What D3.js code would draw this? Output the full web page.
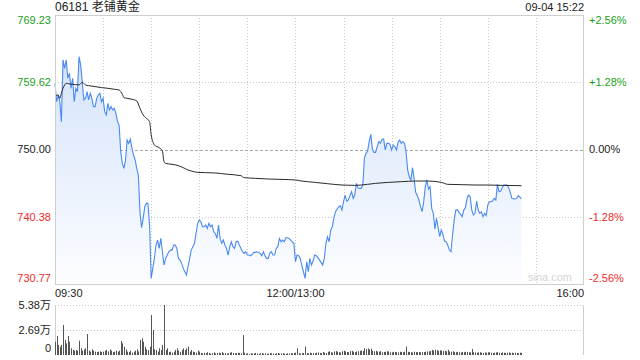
<!DOCTYPE html>
<html><head><meta charset="utf-8">
<script src="https://cdn.jsdelivr.net/npm/d3@7"></script>
<style>
html,body{margin:0;padding:0;background:#fff;}
text{font-family:"Liberation Sans",Arial,"Noto Sans CJK SC",sans-serif;}
</style></head>
<body><svg id="c" width="640" height="360"></svg>
<script>
// ---- data (price at each trading minute from 09:30, 12:00/13:00 joined) ----
const title = "06181 老铺黄金";
const stamp = "09-04 15:22";
const prevClose = 750.00;
const priceTicks = [769.23, 759.62, 750.00, 740.38, 730.77];
const pctTicks = ["+2.56%", "+1.28%", "0.00%", "-1.28%", "-2.56%"];
const timeLabels = ["09:30", "12:00/13:00", "16:00"];
const timeLabelMinutes = [0, 150, 330];
const volTicks = [5.38, 2.69, 0];
const volTickLabels = ["5.38万", "2.69万", "0"];
const price = [
759.47,756.84,757.80,756.84,753.98,762.80,761.61,762.80,760.18,760.90,
758.75,760.18,756.84,758.75,758.27,763.28,762.09,759.70,757.08,757.32,
758.27,757.08,758.04,757.32,756.13,756.13,757.32,757.80,758.04,756.84,
757.32,755.41,754.94,756.60,755.65,756.13,755.65,755.89,755.17,753.98,
753.50,749.69,748.02,747.31,748.50,751.36,750.88,751.50,750.17,749.21,
748.50,747.31,746.35,741.11,738.82,740.15,741.82,742.30,742.30,739.20,
731.57,733.00,734.43,736.34,737.05,735.86,737.29,735.38,733.48,734.43,
734.91,735.38,735.62,735.62,736.34,736.34,735.86,734.43,734.19,733.72,
733.00,732.52,732.04,733.24,734.43,735.62,736.10,736.58,738.00,739.44,
739.91,739.67,738.96,738.96,739.20,738.72,739.44,738.96,739.20,738.24,
738.00,737.29,739.20,737.29,736.58,737.05,736.34,735.86,734.91,736.10,
736.81,736.10,735.86,736.81,736.90,736.34,735.86,735.38,735.15,735.38,
734.91,734.91,734.81,735.00,735.29,735.29,735.38,735.29,735.15,734.81,
735.38,734.81,734.43,734.43,735.15,735.38,734.91,734.91,735.86,736.10,
737.29,736.81,737.05,736.81,737.39,737.39,737.29,737.05,736.81,736.58,
733.96,734.91,734.81,734.43,733.38,732.52,731.57,733.96,732.52,734.43,
733.48,734.05,734.91,734.81,734.53,734.19,733.86,733.48,734.43,736.58,
737.53,736.81,738.48,738.96,740.25,741.11,741.49,741.82,741.96,741.34,
742.54,743.49,742.63,742.78,743.40,743.97,743.01,743.49,745.16,744.54,
744.44,744.44,744.92,748.74,749.45,749.79,751.12,752.17,750.07,749.59,
749.59,750.41,751.12,750.88,751.45,751.50,749.93,750.88,750.88,750.74,
749.93,750.64,750.41,749.93,751.03,751.36,750.88,751.12,750.88,749.69,
747.07,746.11,745.64,747.40,745.88,743.88,743.40,742.78,741.82,741.11,
742.54,744.68,745.64,744.35,744.68,741.58,740.87,738.63,740.15,738.82,
737.53,738.48,737.86,736.90,736.81,736.34,735.62,735.38,737.77,739.91,
741.34,741.39,741.01,740.73,740.39,741.34,741.68,742.92,743.49,743.25,
741.34,740.63,740.87,742.63,741.34,740.87,741.11,740.39,740.87,740.54,
742.06,742.54,742.54,742.63,743.01,742.78,745.02,743.97,744.06,744.54,
744.92,744.92,744.92,744.54,743.88,743.01,742.92,742.92,743.01,743.40,
743.20,742.92
];
const avgMinute = [0,2,3,4,5,6,7,9,11,15,17,19,21,25,29,33,37,40,42,43,45,48,51,53,55,57,59,60,61,62,65,67,68,69,73,77,80,83,85,89,94,100,
108,116,118,125,133,141,150,154,162,170,179,187,191,195,200,208,216,225,233,241,245,254,262,270,279,291];
const avgPrice = [757.56,757.80,757.32,758.04,758.75,759.23,759.47,759.37,759.32,759.23,759.61,759.23,759.13,758.99,758.85,758.75,758.61,758.51,757.89,757.42,
757.32,757.18,756.94,755.89,754.94,754.46,753.98,752.07,751.12,750.64,750.26,749.79,748.26,748.02,747.88,747.69,747.40,747.07,746.92,746.73,746.69,746.64,
746.45,746.26,745.97,745.88,745.78,745.73,745.64,745.49,745.30,745.11,744.92,744.87,744.92,745.02,745.16,745.30,745.40,745.49,745.49,745.30,745.02,744.97,744.92,744.92,744.87,744.83];
const volume = [
1.43,2.04,1.08,0.90,1.08,3.23,1.61,1.25,2.04,1.43,
0.72,0.54,0.47,0.54,0.47,1.54,0.72,0.47,0.61,0.72,
2.26,0.47,0.36,0.61,0.47,0.36,0.32,0.36,0.39,0.32,
0.36,0.47,0.54,0.39,0.61,0.47,0.32,0.36,0.47,0.36,
0.47,1.51,1.25,0.90,0.61,0.36,0.32,0.47,0.25,0.36,
0.47,0.61,0.39,1.61,1.79,1.43,0.90,0.61,0.54,0.90,
4.30,2.69,0.61,0.54,0.36,0.72,0.54,1.08,5.38,0.54,
0.72,0.32,0.36,0.25,0.36,0.54,0.72,0.47,0.32,0.54,
0.72,0.54,0.72,0.90,0.36,0.54,0.36,0.32,0.25,0.47,
0.36,
0.22,0.18,0.25,0.20,0.30,0.22,0.15,0.20,0.28,0.18,0.22,0.25,0.20,0.32,0.18,0.22,0.15,0.20,0.25,0.30,0.22,0.18,0.20,0.25,0.22,0.18,
2.15,0.25,
0.15,0.18,0.12,0.20,0.15,0.18,0.22,0.15,0.12,0.18,0.20,0.15,0.18,0.12,0.15,0.20,0.18,0.15,0.12,0.18,0.22,0.15,0.18,0.20,0.15,0.12,0.18,0.15,0.20,0.18,0.22,
0.25,0.72,0.20,0.15,0.18,0.22,0.90,
0.22,0.18,0.25,0.20,0.22,0.18,0.25,0.28,0.22,0.20,0.32,0.25,0.22,0.35,0.40,0.30,0.25,0.38,0.42,0.35,0.30,0.28,0.40,0.45,0.38,0.32,0.30,0.42,0.45,0.35,0.30,0.38,0.40,0.45,
0.50,0.45,0.72,0.65,0.70,0.60,0.68,0.45,
0.40,0.45,0.38,0.35,0.42,0.30,0.32,0.35,0.40,0.38,0.30,0.28,0.35,0.32,0.30,0.28,0.35,0.32,0.30,0.35,
0.90,
0.35,0.32,0.30,0.28,0.35,0.32,0.30,0.33,0.28,0.30,0.32,0.35,0.38,0.40,0.42,
0.55,0.50,0.58,0.52,0.45,0.50,0.48,0.42,0.45,0.40,0.55,0.38,0.35,0.40,
0.32,0.30,0.35,0.30,0.28,0.32,0.30,0.35,0.32,0.30,0.28,
0.65,
0.30,0.28,0.25,0.28,0.30,0.25,0.22,0.28,0.25,0.30,0.28,0.25,0.22,0.25,0.28,0.30,0.25,0.22,0.28,0.25,0.22,0.25,0.28,0.22,0.25,0.20,0.25,0.22,0.20,0.25,0.22
];

// ---- drawing ----
const svg = d3.select("#c");
const L = 55, R = 584, T = 15, B = 284, VT = 305, VB = 355;
const x = d3.scaleLinear().domain([0, 330]).range([L, R]);
const y = d3.scaleLinear().domain([730.77, 769.23]).range([B, T]);
const yv = d3.scaleLinear().domain([0, 5.38]).range([VB, VT]);
const GREEN = "#1a9f1a", RED = "#f02b2b", DARK = "#222";
const colorFor = v => Math.abs(v - prevClose) < 1e-6 ? DARK : (v > prevClose ? GREEN : RED);

const defs = svg.append("defs");
const grad = defs.append("linearGradient").attr("id", "g").attr("gradientUnits", "userSpaceOnUse")
  .attr("x1", 0).attr("x2", 0).attr("y1", T + 30).attr("y2", B);
grad.append("stop").attr("offset", 0).attr("stop-color", "#d3e2fa");
grad.append("stop").attr("offset", 1).attr("stop-color", "#fcfdff");

// grid main
const gridMin = d3.range(30, 330, 30);
svg.append("g").selectAll("line").data(gridMin).join("line")
  .attr("x1", d => Math.round(x(d)) + 0.5).attr("x2", d => Math.round(x(d)) + 0.5)
  .attr("y1", T).attr("y2", B).attr("stroke", "#c8c8c8").attr("stroke-dasharray", "1,2");
svg.append("g").selectAll("line").data(priceTicks.slice(1, 4)).join("line")
  .attr("x1", L).attr("x2", R)
  .attr("y1", d => Math.round(y(d)) + 0.5).attr("y2", d => Math.round(y(d)) + 0.5)
  .attr("stroke", d => d === prevClose ? "#a8a8a8" : "#c8c8c8")
  .attr("stroke-dasharray", d => d === prevClose ? "3,2" : "1,2");

// area + line
const pts = price.map((p, i) => [i, p]);
svg.append("path").datum(pts)
  .attr("d", d3.area().x(d => x(d[0])).y0(B).y1(d => y(d[1])))
  .attr("fill", "url(#g)");
svg.append("path").datum(pts)
  .attr("d", d3.line().x(d => x(d[0])).y(d => y(d[1])))
  .attr("fill", "none").attr("stroke", "#4a8af0").attr("stroke-width", 1.1);
svg.append("path").datum(avgMinute.map((m, i) => [m, avgPrice[i]]))
  .attr("d", d3.line().x(d => x(d[0])).y(d => y(d[1])).curve(d3.curveMonotoneX))
  .attr("fill", "none").attr("stroke", "#2a2a2a").attr("stroke-width", 1);

// frame main
svg.append("rect").attr("x", L + 0.5).attr("y", T + 0.5).attr("width", R - L - 1).attr("height", B - T)
  .attr("fill", "none").attr("stroke", "#cfcfcf");

// watermark
svg.append("text").attr("x", R - 12).attr("y", B - 3).attr("text-anchor", "end")
  .attr("font-size", 11).attr("fill", "#d4d4d4").text("sina.com");

// price labels
const lblY = (v, i) => i === 0 ? T + 5 : (i === priceTicks.length - 1 ? B - 6 : y(v));
svg.append("g").selectAll("text").data(priceTicks).join("text")
  .attr("x", L - 4).attr("y", (d, i) => lblY(d, i)).attr("dy", "0.35em").attr("text-anchor", "end")
  .attr("font-size", 11).attr("fill", d => colorFor(d)).text(d => d.toFixed(2));
svg.append("g").selectAll("text").data(pctTicks).join("text")
  .attr("x", R + 5).attr("y", (d, i) => lblY(priceTicks[i], i)).attr("dy", "0.35em")
  .attr("font-size", 11).attr("fill", (d, i) => colorFor(priceTicks[i])).text(d => d);

// title
svg.append("text").attr("x", L).attr("y", 7).attr("dy", "0.35em").attr("font-size", 12).attr("fill", "#222").text(title);
svg.append("text").attr("x", R).attr("y", 7).attr("dy", "0.35em").attr("text-anchor", "end").attr("font-size", 11).attr("fill", "#222").text(stamp);

// time labels
svg.append("g").selectAll("text").data(timeLabels).join("text")
  .attr("x", (d, i) => x(timeLabelMinutes[i]))
  .attr("y", 293).attr("dy", "0.35em")
  .attr("text-anchor", (d, i) => i === 0 ? "start" : (i === timeLabels.length - 1 ? "end" : "middle"))
  .attr("font-size", 11).attr("fill", "#222").text(d => d);

// volume panel
svg.append("g").selectAll("line").data(volTicks.slice(0, 2)).join("line")
  .attr("x1", L).attr("x2", R).attr("y1", d => Math.round(yv(d)) + 0.5).attr("y2", d => Math.round(yv(d)) + 0.5)
  .attr("stroke", "#c8c8c8").attr("stroke-dasharray", "1,2");
svg.append("line").attr("x1", L + 0.5).attr("x2", L + 0.5).attr("y1", VT).attr("y2", VB).attr("stroke", "#cfcfcf");
svg.append("line").attr("x1", R - 0.5).attr("x2", R - 0.5).attr("y1", VT).attr("y2", VB).attr("stroke", "#cfcfcf");
svg.append("g").selectAll("line").data(volume).join("line")
  .attr("x1", (d, i) => Math.round(x(i)) + 0.5).attr("x2", (d, i) => Math.round(x(i)) + 0.5)
  .attr("y1", VB).attr("y2", d => yv(d)).attr("stroke", "#555").attr("stroke-width", 1);
svg.append("g").selectAll("text").data(volTickLabels).join("text")
  .attr("x", L - 4).attr("y", (d, i) => i === volTickLabels.length - 1 ? VB - 7 : yv(volTicks[i]))
  .attr("dy", "0.35em").attr("text-anchor", "end").attr("font-size", 11).attr("fill", "#222").text(d => d);
</script></body></html>
